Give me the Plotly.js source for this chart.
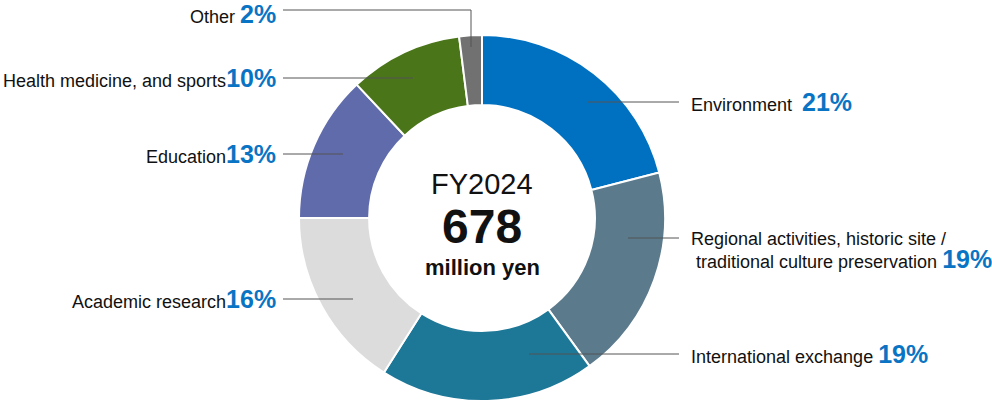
<!DOCTYPE html>
<html><head><meta charset="utf-8">
<script src="https://cdn.plot.ly/plotly-3.0.1.min.js"></script>
<style>html,body{margin:0;padding:0;background:#fff}#chart{width:992px;height:402px}</style>
</head><body><div id="chart"></div>
<script>
const categories = ["Environment", "Regional activities, historic site / traditional culture preservation", "International exchange", "Academic research", "Education", "Health medicine, and sports", "Other"];
const shares = [21, 19, 19, 16, 13, 10, 2];
const sliceColors = ["#0071c1", "#5b7b8d", "#1d7797", "#dcdcdc", "#606bab", "#4a7519", "#717171"];
const labelTexts = ["Environment  ", "Regional activities, historic site /<br> traditional culture preservation ", "International exchange ", "Academic research", "Education", "Health medicine, and sports", "Other "];
const centerYear = "FY2024";
const centerTotal = "678";
const centerUnit = "million yen";

const W = 992, H = 402;
const px = x => x / W, py = y => 1 - y / H;
const FONT = "Liberation Sans, Arial, Helvetica, sans-serif";
const BLUE = "#0a74c4";

// label layout: [side, textX, textY, lineInnerX, lineY]
const labelPos = [
  ["r", 689, 102, 588, 102],
  ["r", 689, 251, 628, 238],
  ["r", 689, 354, 529, 354],
  ["l", 278, 299, 353, 299],
  ["l", 278, 154, 343, 154],
  ["l", 278, 78, 413, 78],
  ["l", 278, 14, 471, 10]
];

const annotations = [];
const shapes = [];
categories.forEach((c, i) => {
  const [side, tx, ty, lx, ly] = labelPos[i];
  annotations.push({
    xref: "paper", yref: "paper", x: px(tx), y: py(ty),
    xanchor: side === "r" ? "left" : "right", yanchor: "middle", align: "left",
    showarrow: false,
    text: labelTexts[i] + "<span style='font-size:25px;color:" + BLUE + "'><b>" + shares[i] + "%</b></span>",
    font: {family: FONT, size: 18, color: "#111"}
  });
  const x0 = side === "r" ? 679 : 283;
  shapes.push({type: "line", xref: "paper", yref: "paper", x0: px(x0), x1: px(lx), y0: py(ly), y1: py(ly), line: {color: "#555", width: 1}});
});
// Other: vertical drop
shapes.push({type: "line", xref: "paper", yref: "paper", x0: px(471), x1: px(471), y0: py(10), y1: py(47), line: {color: "#555", width: 1}});

annotations.push({xref: "paper", yref: "paper", x: px(482), y: py(184), xanchor: "center", yanchor: "middle", showarrow: false, text: centerYear, font: {family: FONT, size: 29, color: "#111"}});
annotations.push({xref: "paper", yref: "paper", x: px(482), y: py(226), xanchor: "center", yanchor: "middle", showarrow: false, text: "<b>" + centerTotal + "</b>", font: {family: FONT, size: 48, color: "#111"}});
annotations.push({xref: "paper", yref: "paper", x: px(482), y: py(267), xanchor: "center", yanchor: "middle", showarrow: false, text: "<b>" + centerUnit + "</b>", font: {family: FONT, size: 22, color: "#111"}});

const cx = 482, cy = 218, R = 183;
Plotly.newPlot("chart", [{
  type: "pie", labels: categories, values: shares, sort: false, direction: "clockwise", rotation: 0,
  hole: 0.617, textinfo: "none", hoverinfo: "none",
  marker: {colors: sliceColors, line: {color: "#fff", width: 2}},
  domain: {x: [px(cx - R), px(cx + R)], y: [py(cy + R), py(cy - R)]}
}], {
  width: W, height: H, margin: {l: 0, r: 0, t: 0, b: 0},
  showlegend: false, paper_bgcolor: "#fff",
  annotations: annotations, shapes: shapes
}, {staticPlot: true});
</script></body></html>
